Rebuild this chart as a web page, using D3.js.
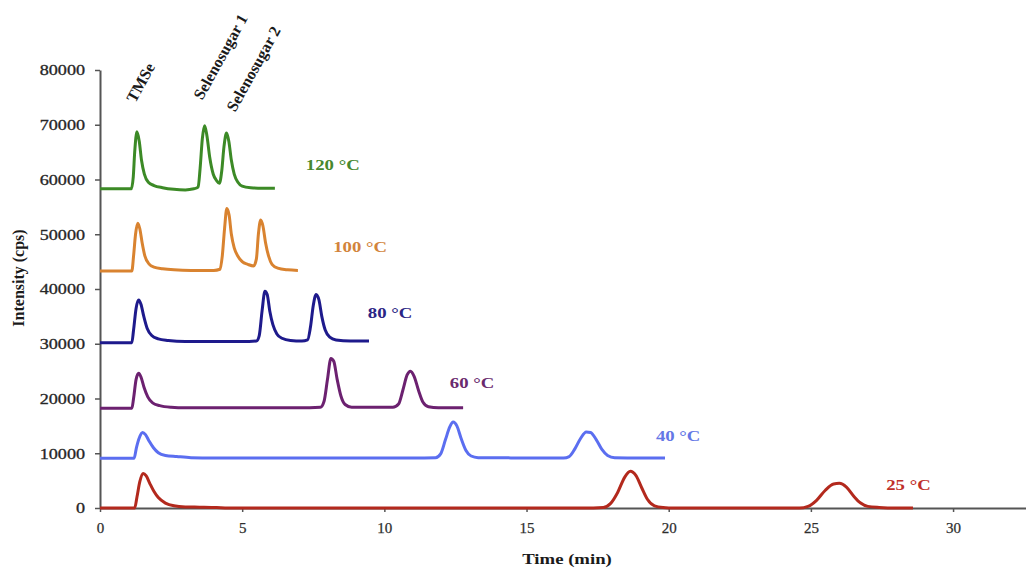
<!DOCTYPE html>
<html>
<head>
<meta charset="utf-8">
<script src="https://cdn.jsdelivr.net/npm/d3@7"></script>
<style>
  html, body { margin: 0; padding: 0; background: #fff; }
  svg { display: block; }
</style>
</head>
<body>
<svg id="chart" width="1026" height="569"></svg>
<script>
// Chromatograms of selenium species at different column temperatures.
// Each trace: [time (min), intensity (cps)]
const trace120 = [[0,58300],[1.1,58300],[1.17,60500],[1.22,65000],[1.3,68700],[1.38,67000],[1.46,63500],[1.56,61000],[1.7,59500],[1.9,58900],[2.2,58500],[2.6,58200],[3.0,58100],[3.3,58300],[3.45,58600],[3.52,62000],[3.6,67500],[3.68,69800],[3.76,68000],[3.86,64000],[3.98,61000],[4.1,59800],[4.2,59300],[4.28,61500],[4.36,66000],[4.45,68500],[4.53,67000],[4.62,63500],[4.72,61000],[4.85,59500],[5.0,58800],[5.3,58500],[5.7,58400],[6.15,58400]];
const trace100 = [[0,43300],[1.12,43300],[1.18,46000],[1.25,50000],[1.33,52000],[1.4,51000],[1.48,48500],[1.58,46000],[1.72,44600],[1.9,44000],[2.2,43700],[2.6,43500],[3.2,43400],[4.0,43400],[4.22,43600],[4.3,46000],[4.38,51000],[4.46,54700],[4.54,53500],[4.62,50000],[4.72,47500],[4.85,46000],[5.0,45000],[5.2,44500],[5.4,44200],[5.5,45500],[5.57,50000],[5.65,52600],[5.73,51500],[5.82,48500],[5.93,46000],[6.05,44500],[6.25,43800],[6.6,43500],[6.96,43400]];
const trace80 = [[0,30200],[1.12,30200],[1.18,32500],[1.27,36500],[1.36,38000],[1.44,37200],[1.54,35000],[1.66,32800],[1.82,31500],[2.05,30900],[2.4,30600],[3.0,30400],[4.0,30400],[5.0,30400],[5.5,30500],[5.6,31500],[5.7,36000],[5.8,39600],[5.88,39000],[5.97,36000],[6.08,33500],[6.22,31800],[6.4,31000],[6.7,30600],[7.1,30500],[7.3,30700],[7.4,33000],[7.5,37000],[7.6,39000],[7.7,38000],[7.8,35000],[7.92,32500],[8.08,31200],[8.3,30700],[8.8,30500],[9.46,30500]];
const trace60 = [[0,18200],[1.12,18200],[1.18,20000],[1.27,23500],[1.36,24600],[1.45,23800],[1.55,22000],[1.68,20300],[1.85,19200],[2.1,18700],[2.5,18400],[3.0,18300],[5.0,18300],[7.0,18300],[7.75,18400],[7.88,19500],[8.0,23500],[8.12,27300],[8.22,26800],[8.34,23500],[8.47,20500],[8.62,18900],[8.85,18400],[10.3,18400],[10.5,19000],[10.65,21500],[10.8,24300],[10.92,25000],[11.05,24000],[11.2,21500],[11.36,19300],[11.55,18500],[11.9,18300],[12.77,18300]];
const trace40 = [[0,9100],[1.2,9100],[1.28,11000],[1.38,12800],[1.5,13800],[1.6,13400],[1.72,12300],[1.88,11000],[2.05,10100],[2.3,9600],[2.7,9400],[3.2,9200],[4.0,9150],[6.0,9150],[9.0,9150],[11.0,9150],[11.8,9200],[11.98,9900],[12.15,12500],[12.3,14800],[12.42,15700],[12.55,15000],[12.7,12700],[12.87,10500],[13.05,9500],[13.3,9200],[15.0,9150],[16.3,9150],[16.5,9400],[16.7,10800],[16.9,12700],[17.1,13900],[17.25,13800],[17.45,12500],[17.65,10700],[17.85,9600],[18.1,9200],[19.0,9150],[19.87,9150]];
const trace25 = [[0,0],[1.22,0],[1.3,2000],[1.4,4800],[1.52,6300],[1.62,5900],[1.75,4500],[1.9,3000],[2.05,1900],[2.3,900],[2.6,400],[3.0,200],[3.5,150],[4.1,80],[4.5,0],[17.0,0],[17.7,100],[17.95,800],[18.2,2800],[18.45,5600],[18.65,6700],[18.85,5900],[19.05,3700],[19.25,1600],[19.5,400],[19.8,100],[20.2,0],[24.6,0],[24.9,300],[25.2,1400],[25.5,3200],[25.8,4400],[26.0,4500],[26.25,3800],[26.5,2200],[26.75,900],[27.0,300],[27.4,100],[28.0,0],[28.59,0]];

const seriesNames = ["120 °C", "100 °C", "80 °C", "60 °C", "40 °C", "25 °C"];
const seriesData = [trace120, trace100, trace80, trace60, trace40, trace25];
// label anchor in data units: [time, intensity]
const seriesLabelAt = [[7.24, 61800], [8.2, 46800], [9.42, 34700], [12.3, 21900], [19.55, 12200], [27.65, 3300]];
const peakNames = ["TMSe", "Selenosugar 1", "Selenosugar 2"];
const peakLabelAt = [[1.24, 73900], [3.6, 74400], [4.76, 72200]];

const xTicks = [0, 5, 10, 15, 20, 25, 30];
const yTicks = [0, 10000, 20000, 30000, 40000, 50000, 60000, 70000, 80000];

const colors = ["#3c8a26", "#d98330", "#1e1a8c", "#6c2170", "#5b6ef0", "#b3291d"];
const labelColors = ["#47882e", "#d2843c", "#2a2585", "#6a2a6e", "#6577e6", "#c0302a"];

const svg = d3.select("#chart");
const x = d3.scaleLinear().domain([0, 32.6]).range([100, 1027]);
const y = d3.scaleLinear().domain([0, 80000]).range([508, 70]);
const serif = "'Liberation Serif', 'DejaVu Serif', serif";
const stretch = 1.25;

// axes
const yAxis = svg.append("g")
  .attr("transform", `translate(${x(0)},0)`)
  .call(d3.axisLeft(y).tickValues(yTicks).tickFormat(d3.format("d")).tickSize(5).tickSizeOuter(0));
yAxis.select(".domain").attr("stroke", "#555").attr("stroke-width", 2);
yAxis.selectAll(".tick line").attr("stroke", "#555").attr("stroke-width", 1.5);
yAxis.selectAll(".tick text")
  .attr("font-family", serif).attr("font-size", 14.5).attr("fill", "#262626")
  .attr("stroke", "#262626").attr("stroke-width", 0.3)
  .attr("x", -15 / stretch).attr("dy", "0.34em")
  .attr("transform", `scale(${stretch},1)`);

const xAxis = svg.append("g")
  .attr("transform", `translate(0,${y(0)})`)
  .call(d3.axisBottom(x).tickValues(xTicks).tickFormat(d3.format("d")).tickSize(4).tickSizeOuter(0));
xAxis.select(".domain").attr("stroke", "#555").attr("stroke-width", 2);
xAxis.selectAll(".tick line").attr("stroke", "#555").attr("stroke-width", 1.5);
xAxis.selectAll(".tick text")
  .attr("font-family", serif).attr("font-size", 15).attr("fill", "#2e2e2e")
  .attr("stroke", "#2e2e2e").attr("stroke-width", 0.25)
  .attr("y", 14);

// traces
const line = d3.line()
  .x(d => x(d[0]))
  .y(d => y(d[1]))
  .curve(d3.curveMonotoneX);

svg.append("g").selectAll("path")
  .data(seriesData)
  .join("path")
  .attr("d", line)
  .attr("fill", "none")
  .attr("stroke", (d, i) => colors[i])
  .attr("stroke-width", 3)
  .attr("stroke-linejoin", "round");

// temperature labels
svg.append("g").selectAll("text")
  .data(seriesNames)
  .join("text")
  .attr("transform", (d, i) => `translate(${x(seriesLabelAt[i][0])},${y(seriesLabelAt[i][1])}) scale(${stretch},1)`)
  .attr("font-family", serif).attr("font-size", 15).attr("font-weight", "bold")
  .attr("fill", (d, i) => labelColors[i])
  .text(d => d);

// peak identities
svg.append("g").selectAll("text")
  .data(peakNames)
  .join("text")
  .attr("transform", (d, i) => `translate(${x(peakLabelAt[i][0])},${y(peakLabelAt[i][1])}) rotate(-61)`)
  .attr("font-family", serif).attr("font-size", 16).attr("font-weight", "bold")
  .attr("fill", "#1a1a1a")
  .text(d => d);

// axis titles
svg.append("text")
  .attr("transform", `translate(24,278) rotate(-90)`)
  .attr("text-anchor", "middle")
  .attr("font-family", serif).attr("font-size", 16).attr("font-weight", "bold")
  .attr("fill", "#1a1a1a")
  .text("Intensity (cps)");

svg.append("text")
  .attr("transform", `translate(567,564) scale(${stretch},1)`)
  .attr("text-anchor", "middle")
  .attr("font-family", serif).attr("font-size", 15).attr("font-weight", "bold")
  .attr("fill", "#1a1a1a")
  .text("Time (min)");
</script>
</body>
</html>
